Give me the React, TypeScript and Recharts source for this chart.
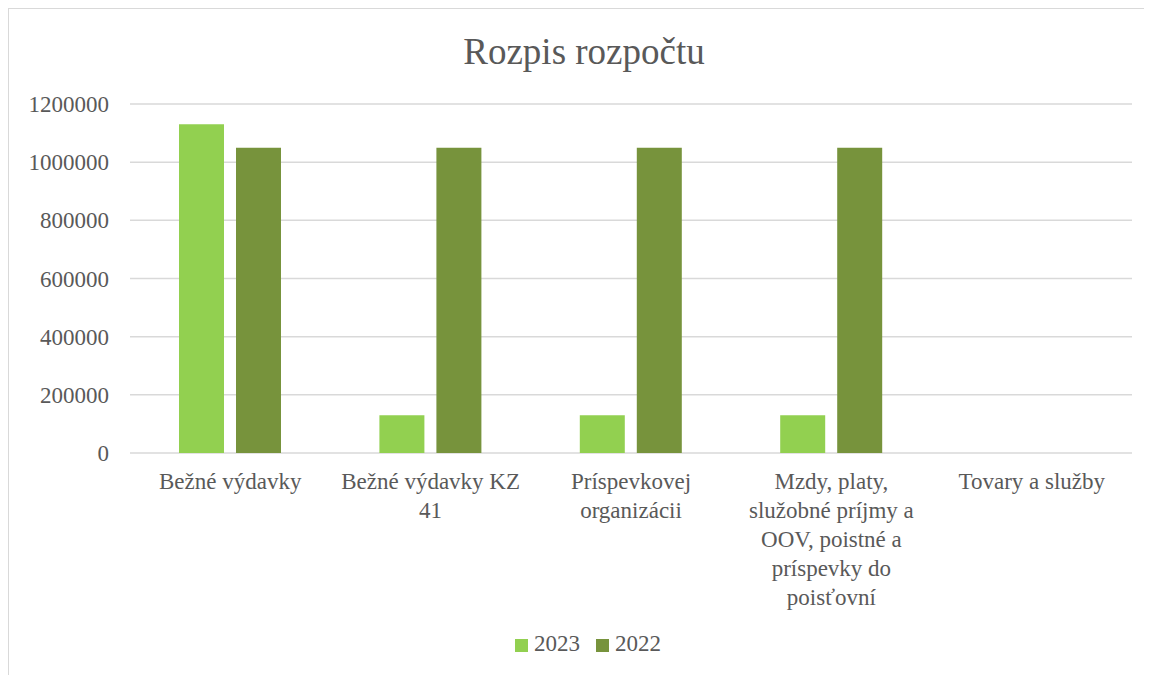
import { BarChart, Bar, XAxis, YAxis, CartesianGrid, Legend } from "recharts";

const CATEGORIES = [
  "Bežné výdavky",
  "Bežné výdavky KZ 41",
  "Príspevkovej organizácii",
  "Mzdy, platy, služobné príjmy a OOV, poistné a príspevky do poisťovní",
  "Tovary a služby",
];
const VALUES_2023 = [1130000, 130000, 130000, 130000, 0];
const VALUES_2022 = [1050000, 1050000, 1050000, 1050000, 0];
const Y_TICKS = [0, 200000, 400000, 600000, 800000, 1000000, 1200000];

const FONT = "'Liberation Serif', 'DejaVu Serif', serif";
const TEXT = "#595959";
const LABEL_SIZE = 23;
const WRAP_WIDTH = 194;

const data = CATEGORIES.map((name, i) => ({
  name,
  s1_2023: VALUES_2023[i],
  s2_2022: VALUES_2022[i],
}));

let ctx: CanvasRenderingContext2D | null = null;
function measure(s: string) {
  if (!ctx) {
    ctx = document.createElement("canvas").getContext("2d");
  }
  if (!ctx) return s.length * LABEL_SIZE * 0.5;
  ctx.font = `${LABEL_SIZE}px ${FONT}`;
  return ctx.measureText(s).width;
}

// word wrap like the excel category axis
function wrap(label: string) {
  const lines: string[] = [];
  let cur = "";
  for (const w of label.split(" ")) {
    const next = cur ? cur + " " + w : w;
    if (cur && measure(next) > WRAP_WIDTH) {
      lines.push(cur);
      cur = w;
    } else {
      cur = next;
    }
  }
  if (cur) lines.push(cur);
  return lines;
}

function CategoryTick(props: any) {
  const { x, y, payload } = props;
  const lines = wrap(String(payload.value));
  return (
    <text
      x={x}
      y={y + 36}
      textAnchor="middle"
      fontSize={LABEL_SIZE}
      fontFamily={FONT}
      fill={TEXT}
    >
      {lines.map((l, i) => (
        <tspan key={i} x={x} dy={i === 0 ? 0 : 29}>
          {l}
        </tspan>
      ))}
    </text>
  );
}

export default function App() {
  return (
    <div
      style={{
        position: "relative",
        width: 1150,
        height: 666,
        border: "1px solid #d9d9d9",
        background: "#fff",
        fontFamily: FONT,
      }}
    >
      <div
        style={{
          position: "absolute",
          top: 25,
          left: 0,
          width: "100%",
          textAlign: "center",
          fontSize: 37,
          lineHeight: "36px",
          color: TEXT,
          fontFamily: FONT,
        }}
      >
        Rozpis rozpočtu
      </div>
      <BarChart
        width={1150}
        height={666}
        data={data}
        margin={{ top: 95, right: 27, left: 0, bottom: 0 }}
        barSize={45}
        barGap={12}
        style={{ fontFamily: FONT }}
      >
        <CartesianGrid vertical={false} stroke="#d9d9d9" strokeWidth={1.5} />
        <XAxis
          dataKey="name"
          interval={0}
          height={222}
          axisLine={false}
          tickLine={false}
          tickSize={0}
          tickMargin={0}
          tick={<CategoryTick />}
        />
        <YAxis
          width={121}
          domain={[0, 1200000]}
          ticks={Y_TICKS}
          axisLine={false}
          tickLine={false}
          tickSize={0}
          tickMargin={21}
          tick={{ fontSize: LABEL_SIZE, fontFamily: FONT, fill: TEXT }}
        />
        <Legend
          layout="horizontal"
          verticalAlign="middle"
          align="center"
          iconType="square"
          iconSize={13}
          itemSorter="dataKey"
          wrapperStyle={{ top: 622, bottom: "auto", left: 12, width: 1150, fontSize: LABEL_SIZE, fontFamily: FONT }}
          formatter={(v) => <span style={{ color: TEXT, marginLeft: 2, marginRight: 6 }}>{v}</span>}
        />
        <Bar dataKey="s1_2023" name="2023" fill="#92D050" isAnimationActive={false} />
        <Bar dataKey="s2_2022" name="2022" fill="#77933C" isAnimationActive={false} />
      </BarChart>
    </div>
  );
}
